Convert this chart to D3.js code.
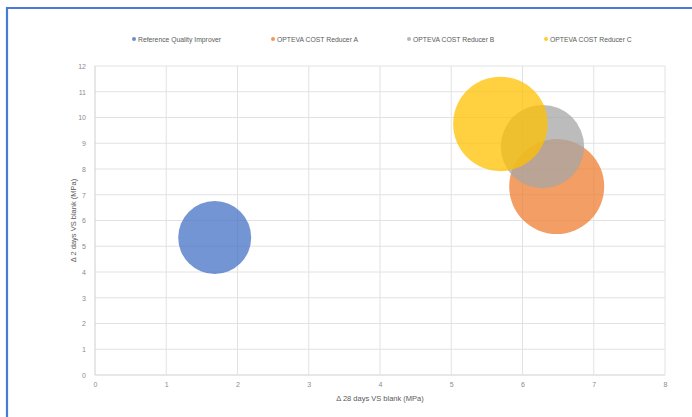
<!DOCTYPE html>
<html>
<head>
<meta charset="utf-8">
<script src="https://cdn.jsdelivr.net/npm/d3@7"></script>
<style>
  body { margin: 0; background: #fff; }
  svg { display: block; font-family: "Liberation Sans", Arial, sans-serif; }
</style>
</head>
<body>
<div id="chart"></div>
<script>
// series data
var seriesNames = ["Reference Quality Improver", "OPTEVA COST Reducer A", "OPTEVA COST Reducer B", "OPTEVA COST Reducer C"];
var xValues = [1.68, 6.48, 6.28, 5.69];   // delta 28 days vs blank (MPa)
var yValues = [5.34, 7.32, 8.87, 9.75];   // delta 2 days vs blank (MPa)
var sizeValues = [5.9, 10, 7.7, 9.9];      // bubble size
var colors = ["#4472C4", "#ED7D31", "#A5A5A5", "#FFC000"];
var xTicks = [0, 1, 2, 3, 4, 5, 6, 7, 8];
var yTicks = [0, 1, 2, 3, 4, 5, 6, 7, 8, 9, 10, 11, 12];

var width = 692, height = 417;
var margin = {top: 66, right: 27, bottom: 42, left: 95};

var svg = d3.select("#chart")
  .append("svg")
    .attr("width", width)
    .attr("height", height);

// blue frame (only top and left edges visible in the crop)
svg.append("path")
  .attr("d", "M7,417 V8 H692")
  .attr("fill", "none")
  .attr("stroke", "#4a7bd4")
  .attr("stroke-width", 2.2);

var x = d3.scaleLinear().domain([0, 8]).range([margin.left, width - margin.right]);
var y = d3.scaleLinear().domain([0, 12]).range([height - margin.bottom, margin.top]);
var r = d3.scaleSqrt().domain([0, d3.max(sizeValues)]).range([0, 47.5]);

// gridlines
svg.append("g")
  .selectAll("line")
  .data(yTicks)
  .enter().append("line")
    .attr("x1", x(0)).attr("x2", x(8))
    .attr("y1", function(d) { return y(d); })
    .attr("y2", function(d) { return y(d); })
    .attr("stroke", function(d) { return d == 0 ? "#cfcfcf" : "#e2e2e2"; })
    .attr("stroke-width", 1);

svg.append("g")
  .selectAll("line")
  .data(xTicks)
  .enter().append("line")
    .attr("y1", y(0)).attr("y2", y(12))
    .attr("x1", function(d) { return x(d); })
    .attr("x2", function(d) { return x(d); })
    .attr("stroke", function(d) { return d == 0 ? "#cfcfcf" : "#e2e2e2"; })
    .attr("stroke-width", 1);

// tick labels through d3 axes
var xAxis = svg.append("g")
  .attr("transform", "translate(0," + (y(0) + 3) + ")")
  .call(d3.axisBottom(x).tickValues(xTicks).tickSize(0).tickPadding(4));
var yAxis = svg.append("g")
  .attr("transform", "translate(" + (x(0) - 7) + ",0)")
  .call(d3.axisLeft(y).tickValues(yTicks).tickSize(0).tickPadding(2));

[xAxis, yAxis].forEach(function(a) {
  a.select(".domain").remove();
  a.selectAll("text")
    .attr("fill", "#8c8c8c")
    .style("font-size", "7px");
});

// bubbles
var data = seriesNames.map(function(n, i) {
  return {name: n, x: xValues[i], y: yValues[i], size: sizeValues[i], color: colors[i]};
});

svg.append("g")
  .selectAll("circle")
  .data(data)
  .enter().append("circle")
    .attr("cx", function(d) { return x(d.x); })
    .attr("cy", function(d) { return y(d.y); })
    .attr("r", function(d) { return r(d.size); })
    .attr("fill", function(d) { return d.color; })
    .attr("fill-opacity", 0.75);

// axis titles
svg.append("text")
  .attr("x", x(4))
  .attr("y", 401)
  .attr("text-anchor", "middle")
  .attr("fill", "#5a5a5a")
  .style("font-size", "7.5px")
  .text("Δ 28 days VS blank (MPa)");

svg.append("text")
  .attr("transform", "translate(76," + y(6) + ") rotate(-90)")
  .attr("text-anchor", "middle")
  .attr("fill", "#5a5a5a")
  .style("font-size", "7.5px")
  .text("Δ 2 days VS blank (MPa)");

// legend
var legendX = [134, 273, 409, 546];
var legend = svg.append("g")
  .selectAll("g")
  .data(data)
  .enter().append("g")
    .attr("transform", function(d, i) { return "translate(" + legendX[i] + ",39)"; });

legend.append("circle")
  .attr("r", 2)
  .attr("fill", function(d) { return d.color; })
  .attr("fill-opacity", 0.8);

legend.append("text")
  .attr("x", 4)
  .attr("y", 2.5)
  .attr("fill", "#5a5a5a")
  .style("font-size", "6.8px")
  .text(function(d) { return d.name; });
</script>
</body>
</html>
